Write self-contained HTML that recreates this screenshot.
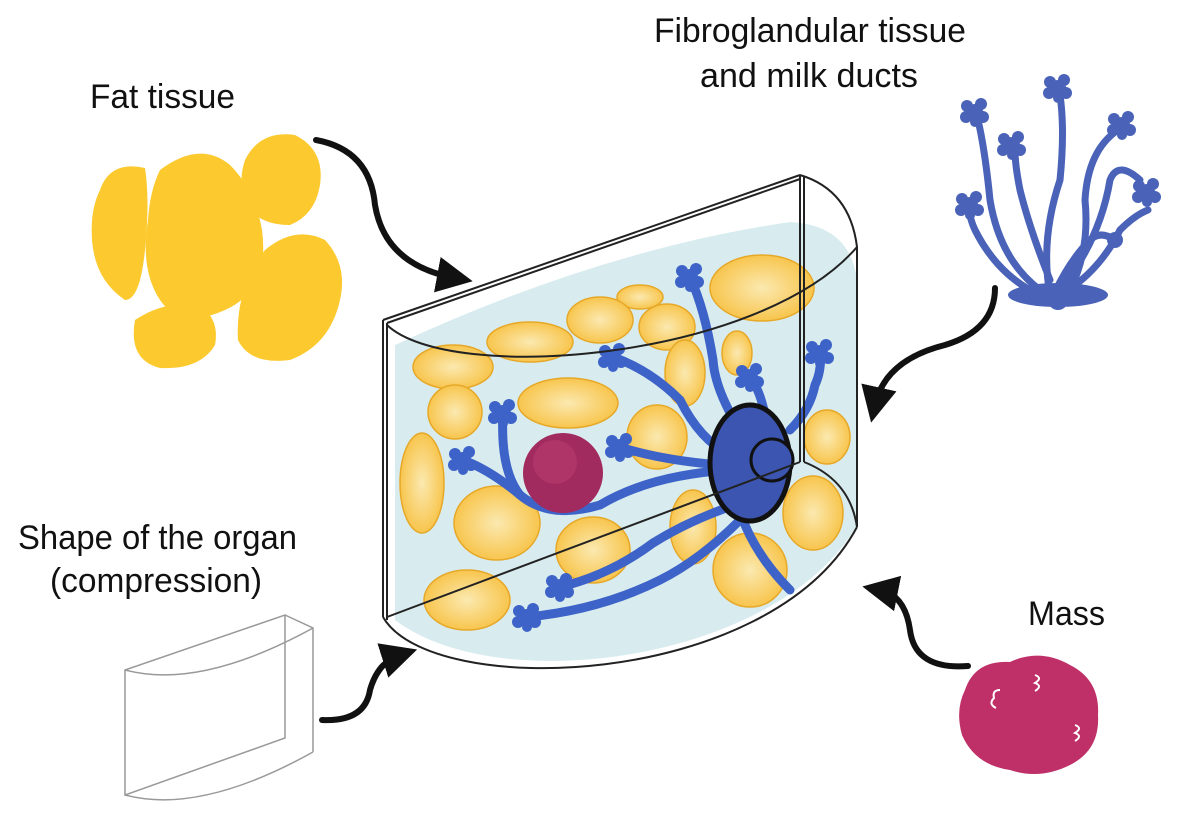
<!DOCTYPE html>
<html><head><meta charset="utf-8"><style>
html,body{margin:0;padding:0;background:#fff;}
svg{display:block}
text{font-family:"Liberation Sans",sans-serif;fill:#111}
</style></head><body>
<svg width="1204" height="825" viewBox="0 0 1204 825" xmlns="http://www.w3.org/2000/svg">
<defs>
<marker id="ah" markerWidth="6" markerHeight="6" refX="3" refY="3" orient="auto" markerUnits="strokeWidth">
<path d="M0,0 L6,3 L0,6 z" fill="#111"/></marker>
<radialGradient id="fg" cx="0.5" cy="0.5" r="0.6">
<stop offset="0" stop-color="#FBE9B0"/><stop offset="1" stop-color="#F7BE3A"/></radialGradient>
<g id="cl"><circle cx="0" cy="0" r="8"/><circle cx="-8" cy="-6" r="6"/><circle cx="6" cy="-8" r="6"/><circle cx="-9" cy="5" r="6"/><circle cx="8" cy="5" r="6"/><circle cx="0" cy="10" r="5"/></g>
</defs>

<text x="90" y="108" font-size="34" textLength="145" lengthAdjust="spacingAndGlyphs">Fat tissue</text>
<text x="654" y="42" font-size="34" textLength="312" lengthAdjust="spacingAndGlyphs">Fibroglandular tissue</text>
<text x="700" y="87" font-size="34" textLength="218" lengthAdjust="spacingAndGlyphs">and milk ducts</text>
<text x="18" y="549" font-size="34" textLength="279" lengthAdjust="spacingAndGlyphs">Shape of the organ</text>
<text x="50" y="592" font-size="34" textLength="212" lengthAdjust="spacingAndGlyphs">(compression)</text>
<text x="1028" y="625" font-size="34" textLength="77" lengthAdjust="spacingAndGlyphs">Mass</text>

<g fill="#FCC92E">
<path d="M100,190 Q110,160 145,168 Q150,200 145,250 Q140,300 125,300 Q95,280 92,240 Q90,210 100,190z"/>
<path d="M160,170 Q200,140 230,165 Q255,190 262,230 Q270,290 225,310 Q180,330 160,300 Q140,270 148,220 Q150,190 160,170z"/>
<path d="M245,160 Q260,130 295,135 Q325,150 320,185 Q315,215 290,225 Q255,225 245,200 Q238,180 245,160z"/>
<path d="M265,250 Q295,225 325,240 Q348,265 340,300 Q330,345 290,360 Q250,365 238,340 Q235,290 265,250z"/>
<path d="M135,320 Q165,300 200,305 Q220,320 215,345 Q200,370 160,368 Q128,360 135,320z"/>
</g>

<g stroke="#4A63B8" stroke-width="7" fill="none" stroke-linecap="round">
<path d="M1050,295 Q1040,240 1060,180 Q1065,130 1060,95"/>
<path d="M1040,290 Q1000,260 990,200 Q985,150 978,120"/>
<path d="M1030,290 Q995,270 975,230 Q968,215 970,205"/>
<path d="M1060,290 Q1100,240 1110,180 Q1118,160 1140,180"/>
<path d="M1065,292 Q1100,270 1120,230 Q1135,215 1148,210"/>
<path d="M1050,280 Q1030,230 1020,190 Q1015,165 1015,150"/>
<path d="M1070,290 Q1090,250 1085,200 Q1088,150 1118,130"/>
<path d="M1055,292 Q1070,260 1090,240 Q1100,230 1115,240"/>
</g>
<g fill="#4A63B8">
<ellipse cx="1058" cy="295" rx="50" ry="12"/>
<use href="#cl" x="1058" y="88"/><use href="#cl" x="975" y="112"/>
<use href="#cl" x="970" y="205"/><use href="#cl" x="1012" y="145"/>
<use href="#cl" x="1122" y="125"/><use href="#cl" x="1147" y="192"/>
<circle cx="1115" cy="240" r="8"/><circle cx="1058" cy="300" r="10"/>
</g>

<g stroke="#999" stroke-width="1.5" fill="none">
<path d="M125,670 L285,615 L285,738 L125,795 Z"/>
<path d="M285,615 L313,628 L313,752"/>
<path d="M125,670 Q200,690 313,628"/>
<path d="M125,795 Q200,815 313,752"/>
</g>

<path d="M395,345 Q600,250 790,222 Q850,225 857,280 L857,525 C780,660 500,700 395,620 Z" fill="#D8ECEF"/>

<g fill="url(#fg)" stroke="#E7A828" stroke-width="1.5">
<ellipse cx="762" cy="288" rx="52" ry="33"/>
<ellipse cx="640" cy="297" rx="23" ry="12"/>
<ellipse cx="600" cy="320" rx="33" ry="23"/>
<ellipse cx="667" cy="327" rx="28" ry="23"/>
<ellipse cx="530" cy="342" rx="43" ry="20"/>
<ellipse cx="453" cy="367" rx="40" ry="22"/>
<ellipse cx="737" cy="353" rx="15" ry="22"/>
<ellipse cx="685" cy="373" rx="20" ry="33"/>
<ellipse cx="455" cy="412" rx="27" ry="27"/>
<ellipse cx="568" cy="403" rx="50" ry="25"/>
<ellipse cx="657" cy="437" rx="30" ry="32"/>
<ellipse cx="422" cy="483" rx="22" ry="50"/>
<ellipse cx="827" cy="437" rx="23" ry="27"/>
<ellipse cx="497" cy="523" rx="43" ry="37"/>
<ellipse cx="593" cy="550" rx="37" ry="33"/>
<ellipse cx="693" cy="527" rx="23" ry="37"/>
<ellipse cx="813" cy="513" rx="30" ry="37"/>
<ellipse cx="750" cy="570" rx="37" ry="37"/>
<ellipse cx="467" cy="600" rx="43" ry="30"/>
</g>
<g stroke="#3E63C8" stroke-width="9" fill="none" stroke-linecap="round">
<path d="M730,470 Q650,475 600,505 Q550,520 520,495 Q500,470 503,413"/>
<path d="M520,495 Q490,470 463,460"/>
<path d="M730,455 Q700,440 680,400 Q650,370 613,357"/>
<path d="M740,430 Q715,390 713,360 Q705,310 690,277"/>
<path d="M765,415 Q760,390 750,377"/>
<path d="M790,430 Q810,410 815,385 Q822,370 820,353"/>
<path d="M720,465 Q660,460 620,447"/>
<path d="M735,505 Q690,520 653,543 Q610,575 560,587"/>
<path d="M740,520 Q700,560 660,580 Q600,610 527,617"/>
<path d="M745,525 Q760,560 790,590"/>
</g>
<g fill="#3E63C8">
<use href="#cl" x="503" y="413"/><use href="#cl" x="463" y="460"/>
<use href="#cl" x="613" y="357"/><use href="#cl" x="690" y="277"/>
<use href="#cl" x="750" y="377"/><use href="#cl" x="820" y="353"/>
<use href="#cl" x="620" y="447"/><use href="#cl" x="560" y="587"/>
<use href="#cl" x="527" y="617"/>
</g>
<ellipse cx="750" cy="463" rx="40" ry="58" fill="#3B55B0" stroke="#111" stroke-width="5"/>
<circle cx="772" cy="460" r="21" fill="#3B55B0" stroke="#111" stroke-width="3"/>
<circle cx="563" cy="473" r="40" fill="#A12A5E"/>
<circle cx="555" cy="462" r="22" fill="#B93C70" opacity="0.6"/>

<g stroke="#222" stroke-width="2" fill="none">
<path d="M383,320 L800,175"/>
<path d="M387,323 L800,179"/>
<path d="M383,320 L383,617"/>
<path d="M387,323 L387,620"/>
<path d="M800,175 L800,462"/>
<path d="M804,177 L804,462"/>
<path d="M387,617 L800,462"/>
<path d="M800,175 Q850,190 857,247 L857,527"/>
<path d="M387,325 C450,385 760,360 857,247"/>
<path d="M383,617 C430,700 770,690 857,527"/>
<path d="M804,462 Q850,480 857,527"/>
</g>

<path d="M965,690 Q975,660 1010,662 Q1040,648 1070,665 Q1100,680 1098,715 Q1100,750 1070,765 Q1040,780 1010,770 Q975,765 962,735 Q955,710 965,690z" fill="#BF2F68"/>
<g stroke="#fff" stroke-width="2" fill="none">
<path d="M1035,675 q8,3 0,8 q8,3 0,8"/>
<path d="M1000,690 q-8,0 -6,8 q-6,6 2,10"/>
<path d="M1075,725 q8,3 0,8 q8,3 0,8"/>
</g>

<g stroke="#111" stroke-width="6" fill="none" stroke-linecap="round">
<path d="M316,140 Q370,150 375,205 Q385,265 455,278" marker-end="url(#ah)"/>
<path d="M995,288 Q995,330 945,345 Q885,360 875,405" marker-end="url(#ah)"/>
<path d="M322,720 Q365,722 370,690 Q378,662 400,655" marker-end="url(#ah)"/>
<path d="M968,666 Q915,670 910,630 Q905,595 880,590" marker-end="url(#ah)"/>
</g>
</svg>
</body></html>
